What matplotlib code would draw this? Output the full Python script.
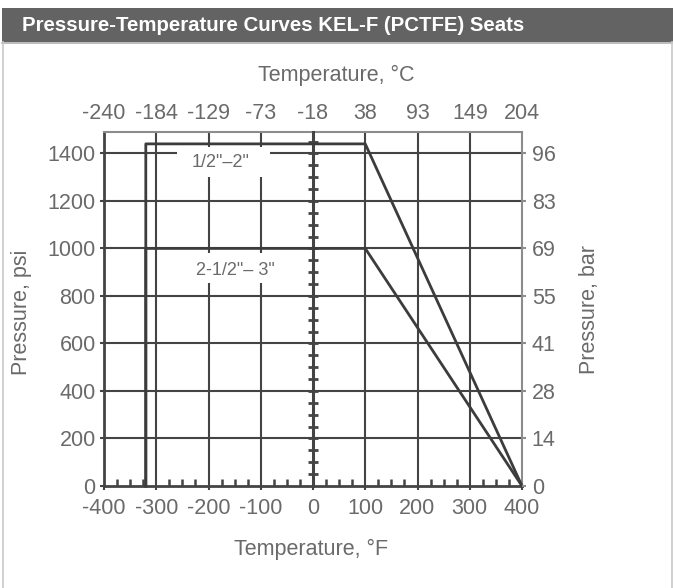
import numpy as np
import matplotlib.pyplot as plt
from matplotlib.patches import Rectangle

plt.rcParams['font.family'] = ['Liberation Sans', 'DejaVu Sans']

#%% data
temp_f = [-400, -300, -200, -100, 0, 100, 200, 300, 400]
temp_c = ['-240', '-184', '-129', '-73', '-18', '38', '93', '149', '204']
psi = [0, 200, 400, 600, 800, 1000, 1200, 1400]
bar = ['0', '14', '28', '41', '55', '69', '83', '96']

# seat curves (temperature degF, pressure psi)
small_t = [-320, -320, 100, 400]
small_p = [0, 1440, 1440, 0]
large_t = [-320, -320, 100, 400]
large_p = [0, 1000, 1000, 0]

minor_t = [t for t in range(-375, 400, 25) if t % 100 != 0]
minor_p = list(range(50, 1500, 50))

#%% style
txt = '#6a6a6a'
ink = '#444444'
W, H = 673, 588
FS = 15.5

fig = plt.figure(figsize=(W / 100, H / 100), dpi=100)

# title band + frame
fig.patches.append(Rectangle((2 / W, 1 - 42 / H), 1, 34 / H, transform=fig.transFigure,
                             facecolor='#636363', edgecolor='none'))
fig.add_artist(plt.Line2D([2 / W, 1], [1 - 42.5 / H] * 2, transform=fig.transFigure,
                          color='#b0b0b0', lw=1.2))
fig.add_artist(plt.Line2D([2.5 / W] * 2, [0, 1 - 42 / H], transform=fig.transFigure,
                          color='#c8c8c8', lw=1.2))
fig.add_artist(plt.Line2D([671.5 / W] * 2, [0, 1 - 42 / H], transform=fig.transFigure,
                          color='#c8c8c8', lw=1.2))
fig.text(22 / W, 1 - 25.5 / H, 'Pressure-Temperature Curves KEL-F (PCTFE) Seats',
         color='white', fontsize=14.7, fontweight='bold', ha='left', va='center')

ax = fig.add_axes([104 / W, 1 - 486 / H, 418 / W, 354 / H])
ax.set_xlim(-400, 400)
ax.set_ylim(0, 1490)

# grid
for t in temp_f[1:-1]:
    if t == 0:
        continue
    ax.axvline(t, color=ink, lw=1.5, zorder=1)
for p in psi[1:]:
    ax.axhline(p, color=ink, lw=1.5, zorder=1)

# white boxes behind the size labels
ax.add_patch(Rectangle((-260, 1300), 178, 127, facecolor='white', edgecolor='none', zorder=2))
ax.add_patch(Rectangle((-235, 855), 172, 125, facecolor='white', edgecolor='none', zorder=2))

# 0 degF line with cross bars, bottom minor ticks
ax.plot([0, 0], [0, 1490], color=ink, lw=2.2, zorder=3, clip_on=False)
ax.plot([0] * len(minor_p), minor_p, ls='none', marker='_', ms=7, mew=2, color=ink, zorder=3)
ax.plot(minor_t, [0] * len(minor_t), ls='none', marker=2, ms=5, mew=1.8, color=ink,
        zorder=3, clip_on=False)

# curves
ax.plot(small_t, small_p, color='#3c3c3c', lw=2, zorder=4, clip_on=False)
ax.plot(large_t, large_p, color='#3c3c3c', lw=2, zorder=4, clip_on=False)

ax.text(-176, 1362, '1/2"\u20132"', color=txt, fontsize=13, ha='center', va='center', zorder=5)
ax.text(-149, 905, '2-1/2"\u2013 3"', color=txt, fontsize=13, ha='center', va='center', zorder=5)

# axes
for s in ['left', 'bottom']:
    ax.spines[s].set_color(ink)
    ax.spines[s].set_linewidth(2)
for s in ['top', 'right']:
    ax.spines[s].set_color('#8c8c8c')
    ax.spines[s].set_linewidth(1.5)

ax.set_xticks(temp_f)
ax.set_xticklabels([str(t) for t in temp_f])
ax.set_yticks(psi)
ax.set_yticklabels([str(p) for p in psi])
ax.tick_params(axis='both', colors=ink, labelcolor=txt, labelsize=FS, length=3, width=1.5)
ax.tick_params(axis='x', pad=6)
ax.tick_params(axis='y', pad=3)

ax_top = ax.twiny()
ax_top.set_xlim(ax.get_xlim())
ax_top.set_xticks(temp_f)
ax_top.set_xticklabels(temp_c)
ax_top.tick_params(axis='x', length=0, labelsize=FS, labelcolor=txt, pad=6)

ax_r = ax.twinx()
ax_r.set_ylim(ax.get_ylim())
ax_r.set_yticks(psi)
ax_r.set_yticklabels(bar)
ax_r.tick_params(axis='y', length=3, width=1.5, colors='#8c8c8c', labelsize=FS,
                 labelcolor=txt, pad=4)
for a in [ax_top, ax_r]:
    for s in a.spines.values():
        s.set_visible(False)

fig.text(336 / W, 1 - 75 / H, 'Temperature, \u00b0C', color=txt, fontsize=FS, ha='center', va='center')
fig.text(311 / W, 1 - 549 / H, 'Temperature, \u00b0F', color=txt, fontsize=FS, ha='center', va='center')
fig.text(22 / W, 1 - 312 / H, 'Pressure, psi', color=txt, fontsize=FS, rotation=90,
         ha='center', va='center')
fig.text(590 / W, 1 - 310 / H, 'Pressure, bar', color=txt, fontsize=FS, rotation=90,
         ha='center', va='center')

fig.savefig('out.png', dpi=100, facecolor='white')
